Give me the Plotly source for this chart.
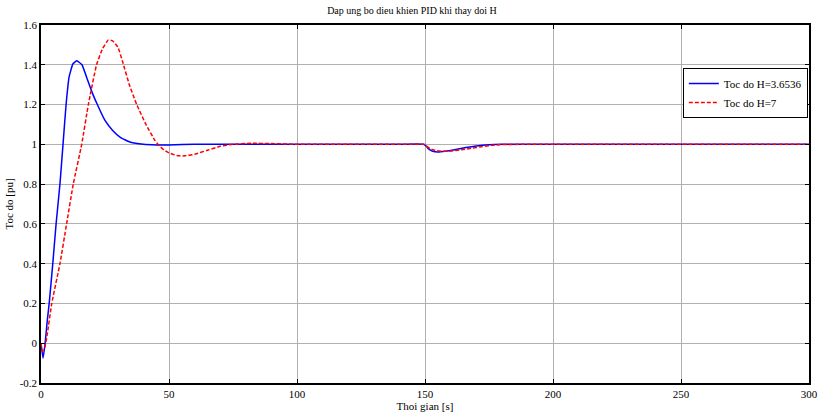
import plotly.graph_objects as go

# Series: H = 3.6536 (blue, solid)
t_blue = [0, 0.8, 1.6, 2.5, 3.2, 4.6, 5.9, 7.4, 8.6, 9.8, 11, 12.5, 14, 16, 18, 20, 22,
          25, 28, 31, 35, 40, 45, 50, 60, 80, 100, 120, 140, 149.5, 150.5, 151.5, 153, 155, 158,
          162, 166, 170, 175, 180, 200, 250, 300]
y_blue = [0, -0.075, 0.0, 0.12, 0.2, 0.4, 0.6, 0.8, 1.0, 1.2, 1.34, 1.405, 1.42, 1.40, 1.33, 1.26, 1.2,
          1.12, 1.07, 1.035, 1.01, 1.0, 0.997, 0.997, 1.0, 1.0, 1.0, 1.0, 1.0, 1.0, 0.99, 0.976, 0.965, 0.961, 0.965,
          0.974, 0.984, 0.992, 0.998, 1.0, 1.0, 1.0, 1.0]

# Series: H = 7 (red, dashed)
t_red = [0, 0.5, 1.5, 2.5, 4.2, 7.4, 10, 12.6, 15.9, 18.5, 21.7, 24, 26.3, 28, 30, 32, 34.5,
         37.4, 41, 44.5, 46, 48, 50, 53, 56, 60, 65, 70, 75, 82, 90, 100, 120, 140, 149.5, 150.5, 152,
         154, 157, 160, 164, 168, 172, 176, 180, 190, 250, 300]
y_red = [0, -0.04, -0.02, 0.05, 0.2, 0.4, 0.6, 0.8, 1.0, 1.2, 1.4, 1.48, 1.525, 1.52, 1.49, 1.41, 1.3,
         1.2, 1.1, 1.02, 0.995, 0.972, 0.957, 0.944, 0.942, 0.95, 0.97, 0.99, 1.0, 1.005, 1.004, 1.0, 1.0,
         1.0, 1.0, 0.992, 0.978, 0.969, 0.965, 0.966, 0.972, 0.98, 0.988, 0.995, 0.999, 1.0, 1.0, 1.0]

x_ticks = [0, 50, 100, 150, 200, 250, 300]
y_ticks = [-0.2, 0, 0.2, 0.4, 0.6, 0.8, 1, 1.2, 1.4, 1.6]
y_ticklabels = ["-0.2", "0", "0.2", "0.4", "0.6", "0.8", "1", "1.2", "1.4", "1.6"]

FONT = "Liberation Serif, Times New Roman, serif"

fig = go.Figure()
fig.add_trace(go.Scatter(x=t_blue, y=y_blue, mode="lines", name="Toc do H=3.6536",
                         line=dict(color="#0000ff", width=1.5, shape="spline", smoothing=0.4)))
fig.add_trace(go.Scatter(x=t_red, y=y_red, mode="lines", name="Toc do H=7",
                         line=dict(color="#ff0000", width=1.5, dash="4px,2px", shape="spline", smoothing=0.4)))

fig.update_layout(
    width=824, height=414,
    margin=dict(l=41, r=15, t=25, b=31),
    paper_bgcolor="white", plot_bgcolor="white",
    font=dict(family=FONT, size=11, color="black"),
    title=dict(text="Dap ung bo dieu khien PID khi thay doi H", x=0.5, xanchor="center",
               y=0.975, yanchor="middle", font=dict(family=FONT, size=10, color="black")),
    legend=dict(x=0.9985, y=0.88, xanchor="right", yanchor="top", bgcolor="white",
                bordercolor="black", borderwidth=1, font=dict(family=FONT, size=11),
                itemwidth=30, tracegroupgap=0),
    showlegend=True,
)
fig.update_xaxes(range=[0, 300], tickvals=x_ticks, ticks="inside", ticklen=4, tickcolor="black",
                 showline=True, linecolor="black", linewidth=1.5, mirror="ticks", automargin=False,
                 showgrid=True, gridcolor="#b0b0b0", gridwidth=1, zeroline=False,
                 title=dict(text="Thoi gian [s]", standoff=2, font=dict(family=FONT, size=11)),
                 tickfont=dict(family=FONT, size=11))
fig.update_yaxes(range=[-0.2, 1.6], tickvals=y_ticks, ticktext=y_ticklabels, ticks="inside", ticklen=4,
                 tickcolor="black", showline=True, linecolor="black", linewidth=1.5, mirror="ticks",
                 automargin=False,
                 showgrid=True, gridcolor="#b0b0b0", gridwidth=1, zeroline=False,
                 title=dict(text="Toc do [pu]", standoff=4, font=dict(family=FONT, size=11)),
                 tickfont=dict(family=FONT, size=11))

fig.write_html("out.html")
